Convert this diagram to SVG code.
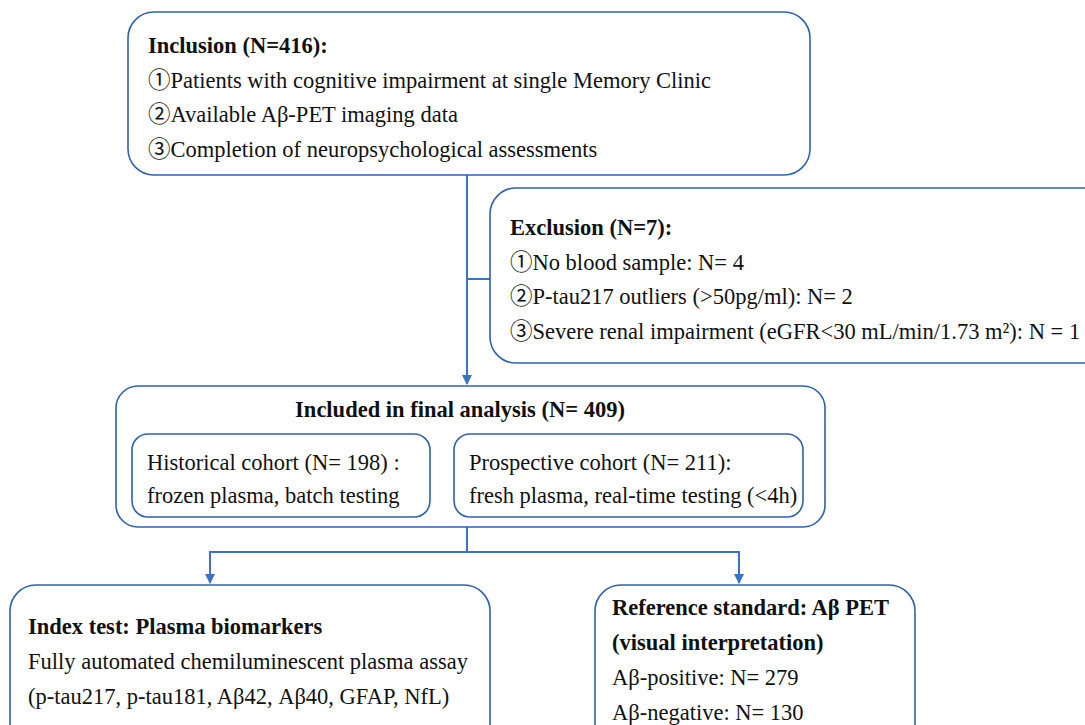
<svg xmlns="http://www.w3.org/2000/svg" width="1085" height="725" viewBox="0 0 1085 725">
<style>
.box{fill:#fff;stroke:#2E62AC;stroke-width:1.6}
.t{font-family:"Liberation Serif","Times New Roman","Noto Sans CJK SC",serif;font-size:22.5px;fill:#111}
.b{font-weight:bold}
.c{fill:none;stroke:#3A72C4;stroke-width:2}
</style>
<defs>
<marker id="ah" viewBox="0 0 10 10" refX="9" refY="5" markerWidth="5" markerHeight="5" orient="auto">
<path d="M0,0 L10,5 L0,10 z" fill="#3A72C4"/>
</marker>
</defs>
<rect width="1085" height="725" fill="#fff"/>
<g id="connectors">
<line class="c" x1="467" y1="175" x2="467" y2="384" marker-end="url(#ah)"/>
<line class="c" x1="467" y1="279" x2="490" y2="279"/>
<line class="c" x1="467" y1="527" x2="467" y2="552"/>
<line class="c" x1="209" y1="552" x2="739" y2="552"/>
<line class="c" x1="210" y1="551" x2="210" y2="583" marker-end="url(#ah)"/>
<line class="c" x1="739" y1="551" x2="739" y2="583" marker-end="url(#ah)"/>
</g>
<g id="inclusion">
<rect class="box" x="128" y="12" width="682" height="163" rx="26"/>
<text class="t b" x="148" y="53">Inclusion (N=416):</text>
<text class="t" x="148" y="88">①Patients with cognitive impairment at single Memory Clinic</text>
<text class="t" x="148" y="122">②Available Aβ-PET imaging data</text>
<text class="t" x="148" y="157">③Completion of neuropsychological assessments</text>
</g>
<g id="exclusion">
<rect class="box" x="490" y="188" width="620" height="175" rx="26"/>
<text class="t b" x="510" y="235">Exclusion (N=7):</text>
<text class="t" x="510" y="270">①No blood sample: N= 4</text>
<text class="t" x="510" y="304">②P-tau217 outliers (&gt;50pg/ml): N= 2</text>
<text class="t" x="510" y="339">③Severe renal impairment (eGFR&lt;30 mL/min/1.73 m²): N = 1</text>
</g>
<g id="final">
<rect class="box" x="116" y="386" width="709" height="141" rx="22"/>
<text class="t b" x="460" y="417" text-anchor="middle">Included in final analysis (N= 409)</text>
</g>
<g id="historical">
<rect class="box" x="132" y="434" width="298" height="83" rx="16"/>
<text class="t" x="147" y="470">Historical cohort (N= 198) :</text>
<text class="t" x="147" y="503">frozen plasma, batch testing</text>
</g>
<g id="prospective">
<rect class="box" x="454" y="434" width="349" height="83" rx="16"/>
<text class="t" x="469" y="470">Prospective cohort (N= 211):</text>
<text class="t" x="469" y="503">fresh plasma, real-time testing (&lt;4h)</text>
</g>
<g id="index">
<rect class="box" x="10" y="585" width="480" height="170" rx="26"/>
<text class="t b" x="28" y="634">Index test: Plasma biomarkers</text>
<text class="t" x="28" y="669">Fully automated chemiluminescent plasma assay</text>
<text class="t" x="28" y="704">(p-tau217, p-tau181, Aβ42, Aβ40, GFAP, NfL)</text>
</g>
<g id="reference">
<rect class="box" x="595" y="585" width="320" height="170" rx="26"/>
<text class="t b" x="612" y="615">Reference standard: Aβ PET</text>
<text class="t b" x="612" y="650">(visual interpretation)</text>
<text class="t" x="612" y="685">Aβ-positive: N= 279</text>
<text class="t" x="612" y="720">Aβ-negative: N= 130</text>
</g>
</svg>
